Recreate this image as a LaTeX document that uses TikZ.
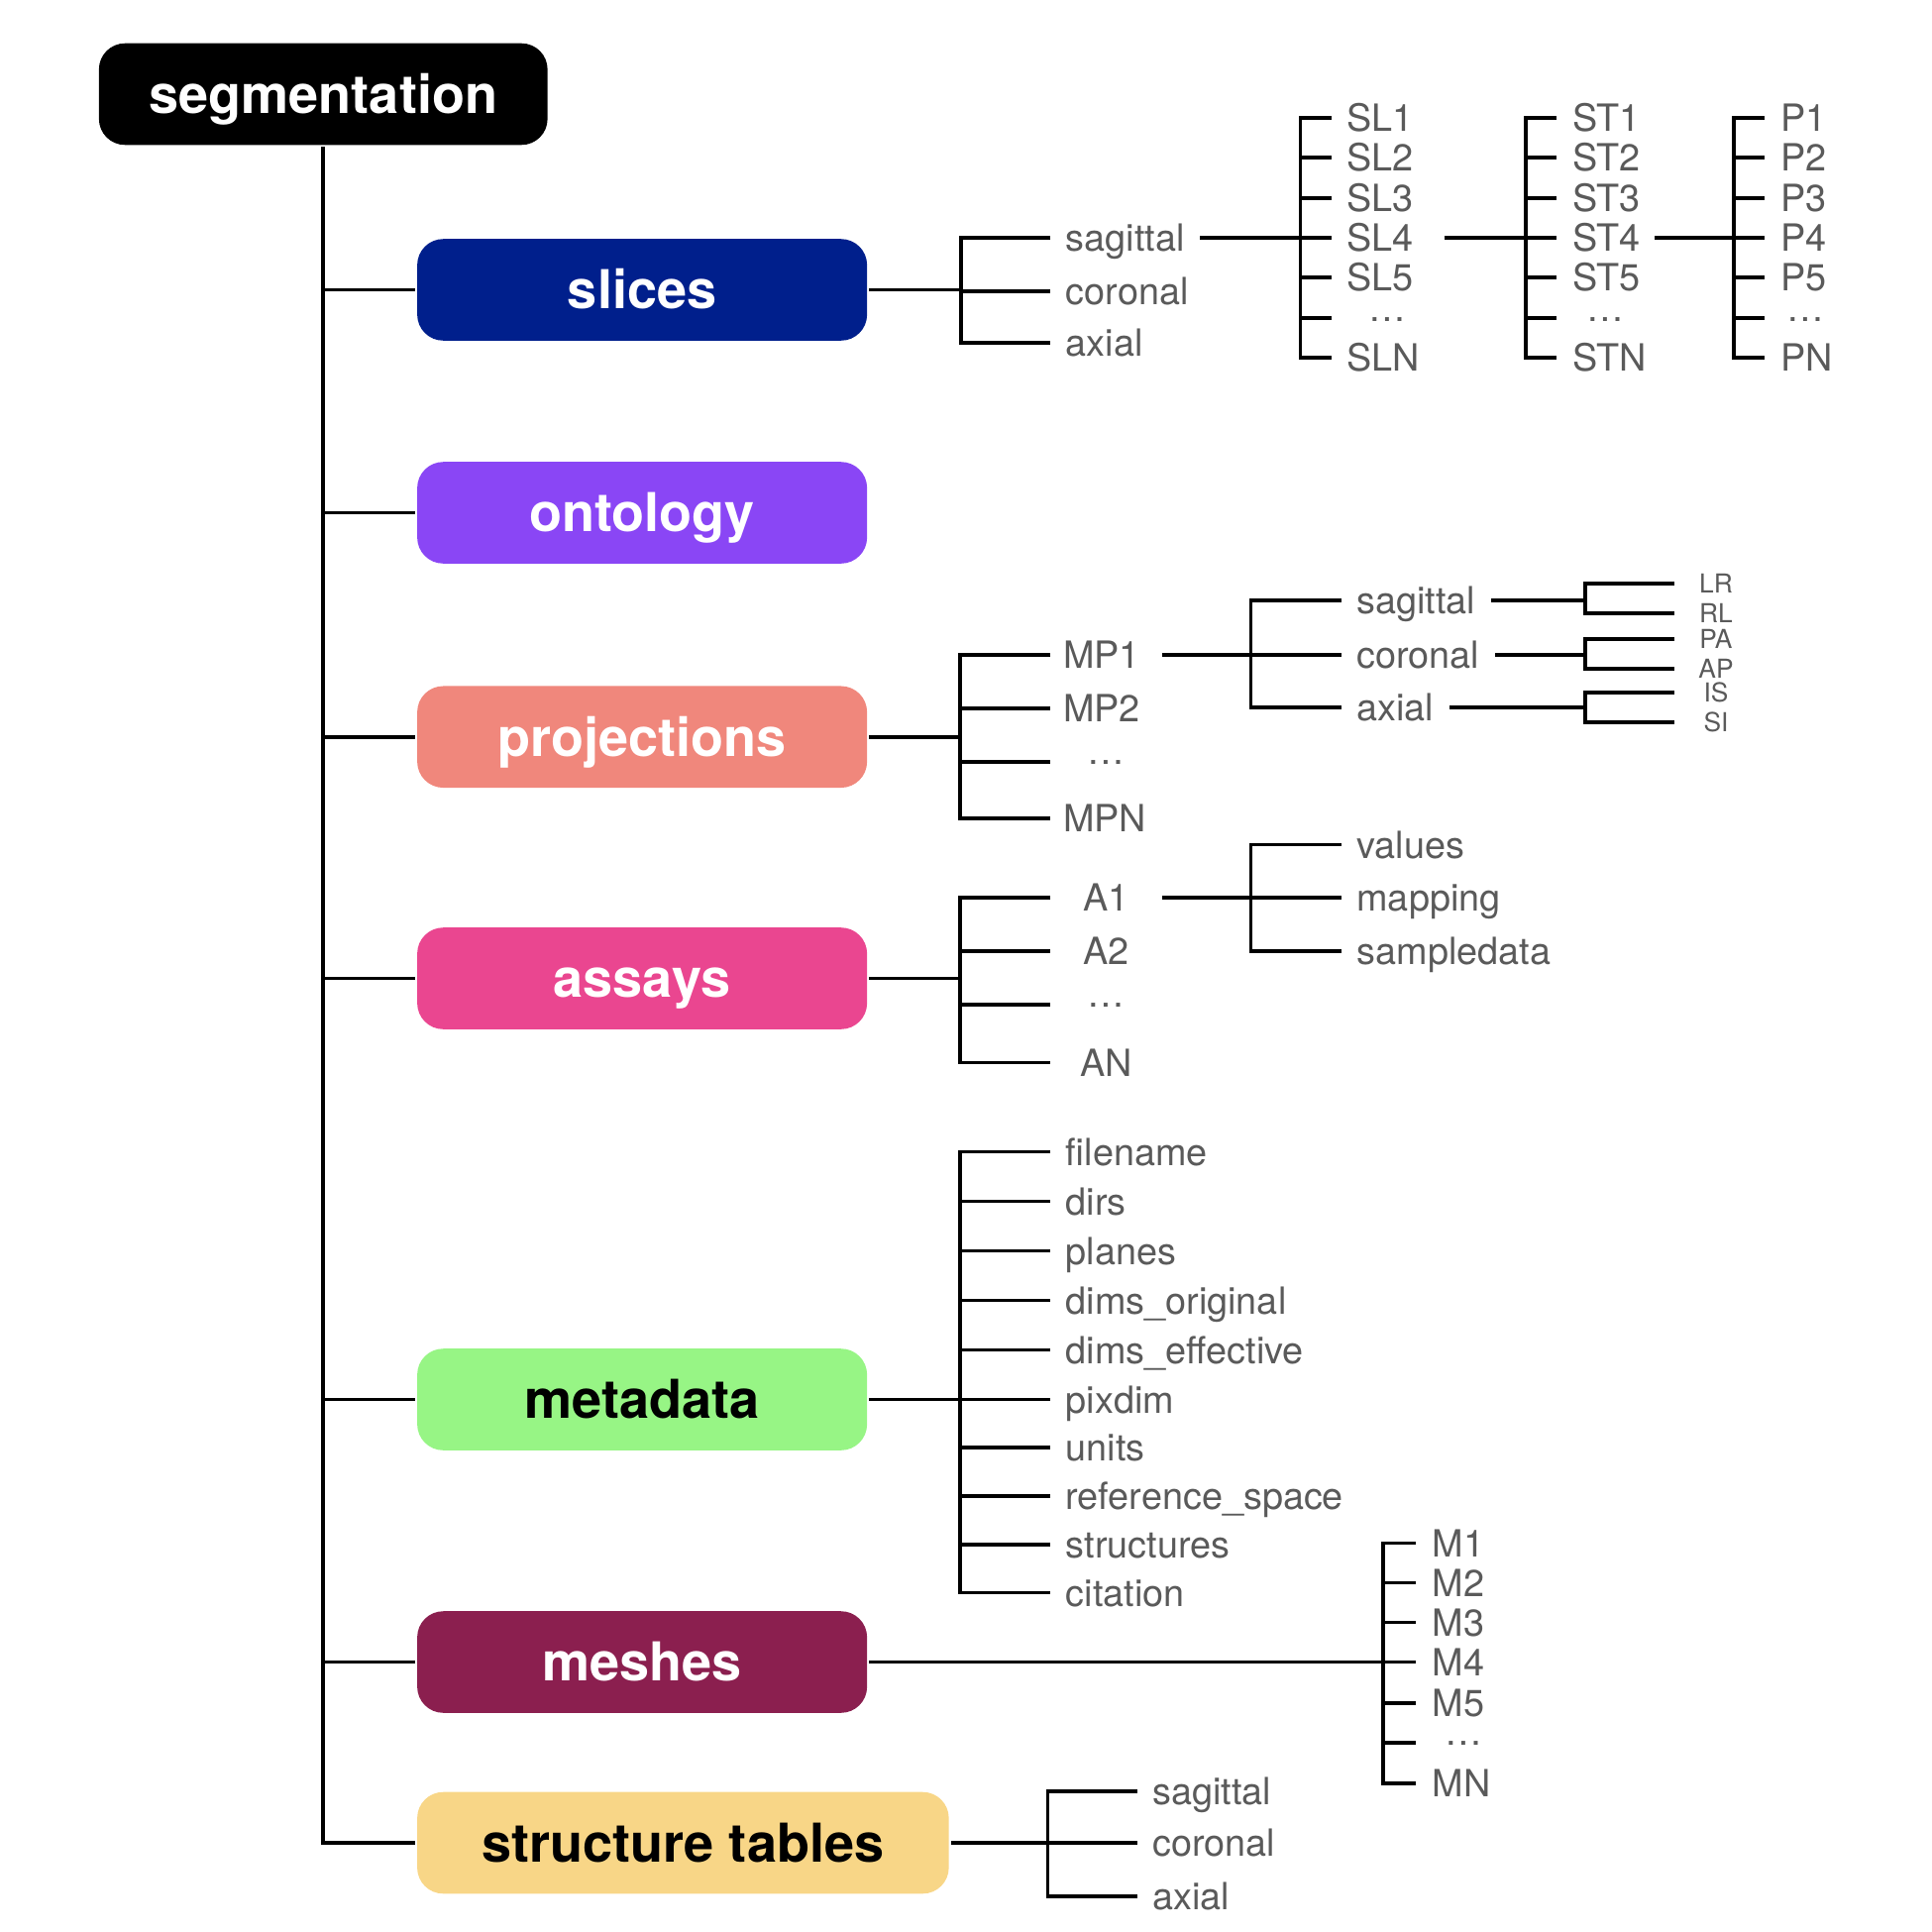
\documentclass[tikz,border=0pt]{standalone}
\usepackage{fontspec}
\setmainfont{TeX Gyre Heros}
\usetikzlibrary{calc}
\definecolor{labgrey}{HTML}{5A5A5A}
\definecolor{slicecol}{HTML}{001F8C}
\definecolor{ontocol}{HTML}{8A46F5}
\definecolor{projcol}{HTML}{F0877C}
\definecolor{assaycol}{HTML}{EA4690}
\definecolor{metacol}{HTML}{97F585}
\definecolor{meshcol}{HTML}{8B1F4F}
\definecolor{tablecol}{HTML}{F8D687}
\newcommand{\middots}{\raisebox{2.4pt}{…}}
\tikzstyle{cat} = [rounded corners=.21cm, minimum width=3.63cm, minimum height=.82cm, inner sep=0pt, text=white, text height=8.8pt, text depth=0pt, font=\fontsize{12.3pt}{12.3pt}\selectfont\bfseries]
\tikzstyle{leaf} = [anchor=west, inner xsep=.11cm, inner ysep=0pt, text=labgrey, text height=6.2pt, text depth=0pt, font=\fontsize{8.6pt}{8.6pt}\selectfont]
\tikzstyle{col} = [leaf, align=left]
\tikzstyle{axis} = [leaf, inner xsep=0pt, minimum width=.64cm, text height=4.3pt, font=\fontsize{6pt}{6pt}\selectfont]

\begin{document}
\begin{tikzpicture}[x=.01cm, y=-.01cm, line width=.9pt]
    \useasboundingbox (0,0) rectangle (1560,1560);
    % main categories
    \draw (261,76) node[cat, fill=black, minimum width=3.62cm] (root) {segmentation};
    \draw (518.5,234) node[cat, fill=slicecol] (slices) {slices};
    \draw (518.5,414) node[cat, fill=ontocol] (ontology) {ontology};
    \draw (518.5,595) node[cat, fill=projcol] (projections) {projections};
    \draw (518.5,790) node[cat, fill=assaycol] (assays) {assays};
    \draw (518.5,1130) node[cat, fill=metacol, text=black] (metadata) {metadata};
    \draw (518.5,1342) node[cat, fill=meshcol] (meshes) {meshes};
    \draw (551.5,1488) node[cat, fill=tablecol, text=black, minimum width=4.29cm] (tables) {structure tables};
    \draw (root.south) -- (root.south |- tables.west) -- (tables.west);
    \draw (root.south |- slices.west) -- (slices.west) (root.south |- ontology.west) -- (ontology.west);
    \draw (root.south |- projections.west) -- (projections.west) (root.south |- assays.west) -- (assays.west);
    \draw (root.south |- metadata.west) -- (metadata.west) (root.south |- meshes.west) -- (meshes.west);

    % slices
    \draw (848,192) node[leaf] (slsag) {sagittal} (848,235) node[leaf] (slcor) {coronal} (848,277) node[leaf] (slax) {axial};
    \coordinate (slj) at (776,234);
    \draw (slices) -- (slj) (slsag.west) -| (slj) |- (slax.west) (slj |- slcor) -- (slcor.west);
    \tikzset{every node/.append style={inner xsep=.08cm, text width=.66cm}}
    \draw (1075,95) node[col] (sl1) {SL1} (1075,127) node[col] (sl2) {SL2}
          (1075,160) node[col] (sl3) {SL3} (1075,192) node[col] (sl4) {SL4}
          (1075,224) node[col] (sl5) {SL5} (1075,257) node[col, align=center] (sldots) {\middots}
          (1075,289) node[col] (sln) {SLN};
    \coordinate (slb) at (1050,192);
    \draw (slsag.east) -- (sl4.west) (sl1.west) -| (slb) |- (sln.west);
    \draw (slb |- sl2) -- (sl2.west) (slb |- sl3) -- (sl3.west) (slb |- sl5) -- (sl5.west) (slb |- sldots) -- (sldots.west);
    \tikzset{every node/.append style={inner xsep=.08cm, text width=.54cm}}
    \draw (1257,95) node[col] (st1) {ST1} (1257,127) node[col] (st2) {ST2}
          (1257,160) node[col] (st3) {ST3} (1257,192) node[col] (st4) {ST4}
          (1257,224) node[col] (st5) {ST5} (1257,257) node[col, align=center] (stdots) {\middots}
          (1257,289) node[col] (stn) {STN};
    \coordinate (stb) at (1232,192);
    \draw (sl4.east) -- (st4.west) (st1.west) -| (stb) |- (stn.west);
    \draw (stb |- st2) -- (st2.west) (stb |- st3) -- (st3.west) (stb |- st5) -- (st5.west) (stb |- stdots) -- (stdots.west);
    \tikzset{every node/.append style={inner xsep=.11cm, text width=.40cm}}
    \draw (1425,95) node[col] (p1) {P1} (1425,127) node[col] (p2) {P2}
          (1425,160) node[col] (p3) {P3} (1425,192) node[col] (p4) {P4}
          (1425,224) node[col] (p5) {P5} (1425,257) node[col, align=center] (pdots) {\middots}
          (1425,289) node[col] (pn) {PN};
    \coordinate (pb) at (1400,192);
    \draw (st4.east) -- (p4.west) (p1.west) -| (pb) |- (pn.west);
    \draw (pb |- p2) -- (p2.west) (pb |- p3) -- (p3.west) (pb |- p5) -- (p5.west) (pb |- pdots) -- (pdots.west);
    \tikzset{every node/.append style={text width=}}

    % projections
    \draw (848,529) node[col, inner xsep=.09cm, text width=.69cm] (mp1) {MP1} (848,572) node[col, inner xsep=.09cm, text width=.69cm] (mp2) {MP2}
          (848,615) node[col, inner xsep=.09cm, text width=.69cm, align=center] (mpdots) {\middots}
          (848,661) node[col, inner xsep=.09cm, text width=.69cm] (mpn) {MPN};
    \coordinate (pj) at (775,595);
    \draw (projections) -- (pj) (mp1.west) -| (pj) |- (mpn.west) (pj |- mp2) -- (mp2.west) (pj |- mpdots) -- (mpdots.west);
    \draw (1083,485) node[leaf] (mpsag) {sagittal} (1083,529) node[leaf] (mpcor) {coronal} (1083,571) node[leaf] (mpax) {axial};
    \coordinate (mpj) at (1010,529);
    \draw (mp1.east) -- (mpcor.west) (mpsag.west) -| (mpj) |- (mpax.west);
    \draw (1352,471) node[axis] (lr) {LR} (1352,495) node[axis] (rl) {RL}
          (1352,516) node[axis] (pa) {PA} (1352,540) node[axis] (ap) {AP}
          (1352,559) node[axis] (is) {IS} (1352,583) node[axis] (si) {SI};
    \coordinate (sagj) at (1280,485);
    \coordinate (corj) at (1280,529);
    \coordinate (axj) at (1280,571);
    \draw (mpsag.east) -- (sagj) (lr.west) -| (sagj) |- (rl.west);
    \draw (mpcor.east) -- (corj) (pa.west) -| (corj) |- (ap.west);
    \draw (mpax.east) -- (axj) (is.west) -| (axj) |- (si.west);

    % assays
    \draw (848,725) node[col, inner xsep=.09cm, text width=.69cm, align=center] (a1) {A1}
          (848,768) node[col, inner xsep=.09cm, text width=.69cm, align=center] (a2) {A2}
          (848,811) node[col, inner xsep=.09cm, text width=.69cm, align=center] (adots) {\middots}
          (848,858) node[col, inner xsep=.09cm, text width=.69cm, align=center] (an) {AN};
    \coordinate (aj) at (775,790);
    \draw (assays) -- (aj) (a1.west) -| (aj) |- (an.west) (aj |- a2) -- (a2.west) (aj |- adots) -- (adots.west);
    \draw (1083,682) node[leaf] (values) {values} (1083,725) node[leaf] (mapping) {mapping} (1083,768) node[leaf] (sampledata) {sampledata};
    \coordinate (a1j) at (1010,725);
    \draw (a1.east) -- (mapping.west) (values.west) -| (a1j) |- (sampledata.west);

    % metadata
    \draw (848,930) node[leaf] (filename) {filename} (848,970) node[leaf] (dirs) {dirs}
          (848,1010) node[leaf] (planes) {planes} (848,1050) node[leaf] (dimsorig) {dims\_original}
          (848,1090) node[leaf] (dimseff) {dims\_effective} (848,1130) node[leaf] (pixdim) {pixdim}
          (848,1169) node[leaf] (units) {units} (848,1208) node[leaf] (refspace) {reference\_space}
          (848,1247) node[leaf] (structures) {structures} (848,1286) node[leaf] (citation) {citation};
    \coordinate (mj) at (775,1130);
    \draw (metadata) -- (pixdim.west) (filename.west) -| (mj) |- (citation.west);
    \draw (mj |- dirs) -- (dirs.west) (mj |- planes) -- (planes.west) (mj |- dimsorig) -- (dimsorig.west)
          (mj |- dimseff) -- (dimseff.west) (mj |- units) -- (units.west) (mj |- refspace) -- (refspace.west)
          (mj |- structures) -- (structures.west);

    % meshes
    \draw (1143,1246) node[col, inner xsep=.12cm, text width=.50cm] (m1) {M1} (1143,1278) node[col, inner xsep=.12cm, text width=.50cm] (m2) {M2}
          (1143,1310) node[col, inner xsep=.12cm, text width=.50cm] (m3) {M3} (1143,1342) node[col, inner xsep=.12cm, text width=.50cm] (m4) {M4}
          (1143,1375) node[col, inner xsep=.12cm, text width=.50cm] (m5) {M5}
          (1143,1407) node[col, inner xsep=.12cm, text width=.50cm, align=center] (mdots) {\middots}
          (1143,1440) node[col, inner xsep=.12cm, text width=.50cm] (mn) {MN};
    \coordinate (mb) at (1117,1342);
    \draw (meshes) -- (m4.west) (m1.west) -| (mb) |- (mn.west);
    \draw (mb |- m2) -- (m2.west) (mb |- m3) -- (m3.west) (mb |- m5) -- (m5.west) (mb |- mdots) -- (mdots.west);

    % structure tables
    \draw (918,1446) node[leaf] (tsag) {sagittal} (918,1488) node[leaf] (tcor) {coronal} (918,1531) node[leaf] (tax) {axial};
    \coordinate (tj) at (846,1488);
    \draw (tables) -- (tj) (tsag.west) -| (tj) |- (tax.west) (tj |- tcor) -- (tcor.west);
\end{tikzpicture}
\end{document}
